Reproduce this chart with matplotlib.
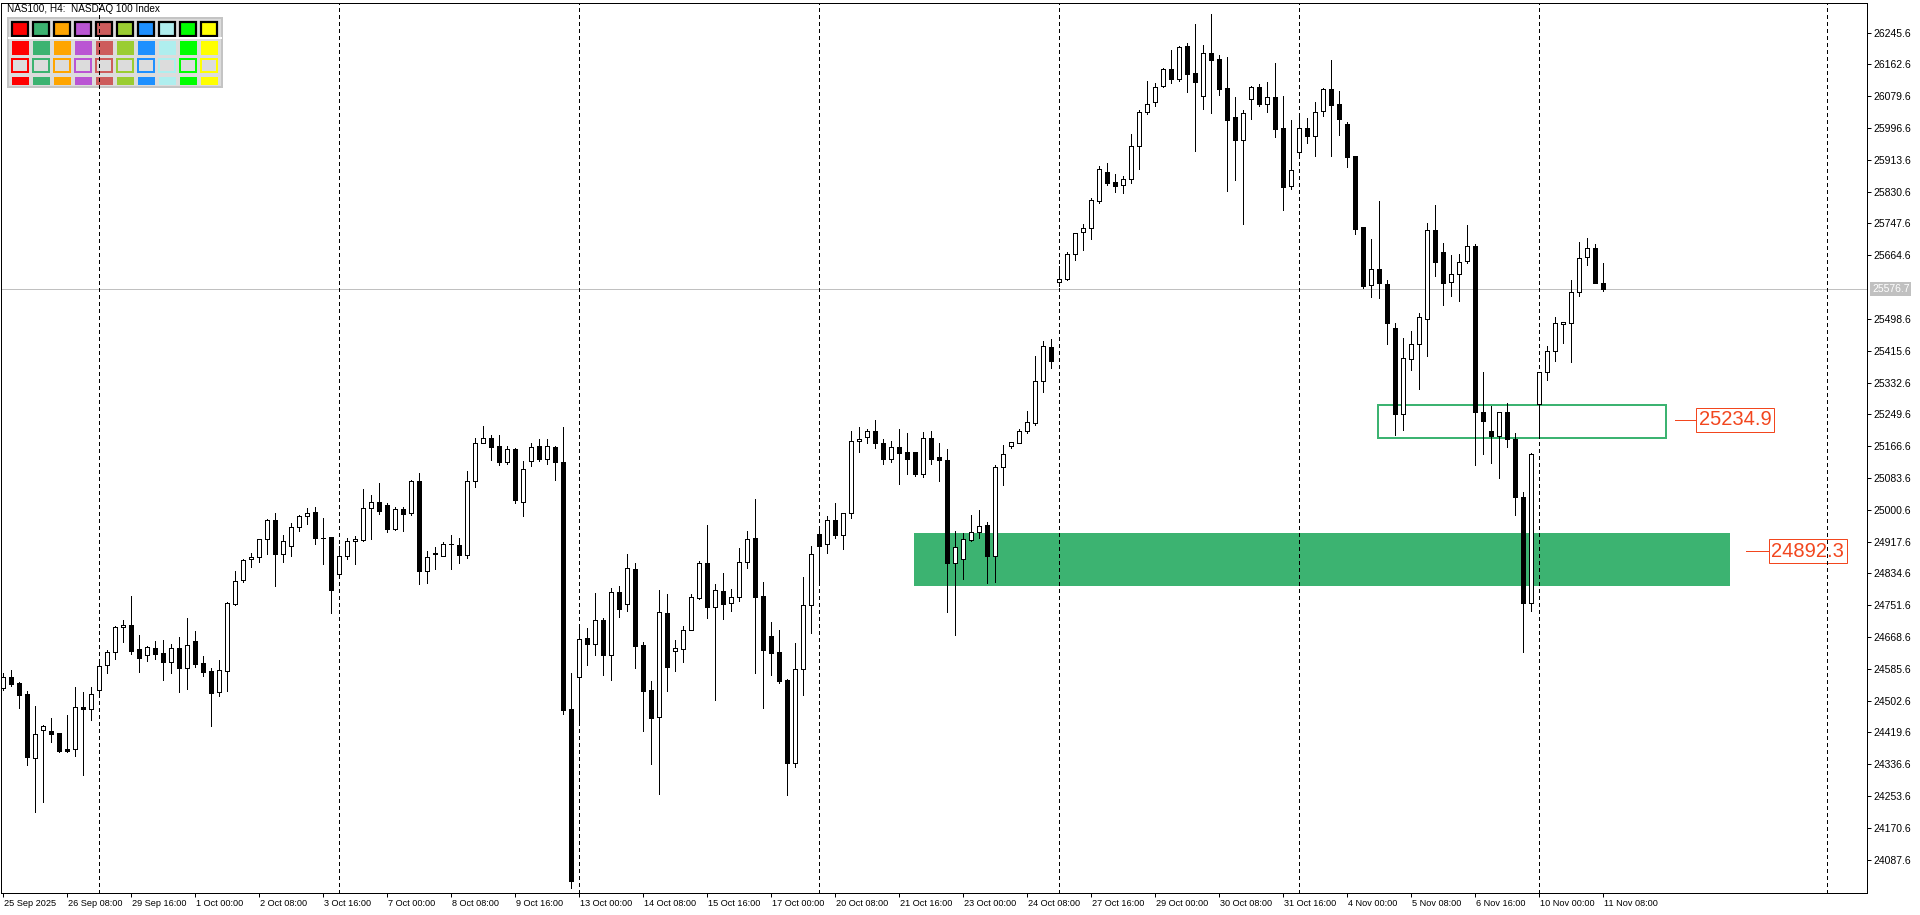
import numpy as np
import matplotlib
matplotlib.use('Agg')
import matplotlib.pyplot as plt
from matplotlib import font_manager, transforms
from matplotlib.patches import Rectangle

# H4 candles, NAS100, 25 Sep 2025 00:00 .. 11 Nov 2025 08:00 (one value per bar)
opens = [24536, 24563, 24548, 24520, 24353, 24425, 24422, 24417, 24375, 24375,
         24485, 24480, 24529, 24594, 24628, 24695, 24700, 24636, 24622, 24639,
         24627, 24602, 24639, 24588, 24657, 24600, 24580, 24524, 24580, 24754,
         24816, 24871, 24876, 24923, 24973, 24886, 24905, 24955, 24983, 24994,
         24928, 24929, 24834, 24881, 24918, 24921, 25004, 25020, 25012, 24951,
         25002, 24993, 25076, 24841, 24884, 24881, 24910, 24909, 24883, 25075,
         25174, 25189, 25166, 25126, 25158, 25022, 25127, 25166, 25133, 25163,
         25125, 24480, 24563, 24665, 24651, 24712, 24622, 24785, 24754, 24845,
         24647, 24530, 24460, 24730, 24633, 24638, 24686, 24771, 24861, 24746,
         24788, 24756, 24772, 24863, 24927, 24775, 24671, 24629, 24556, 24339,
         24584, 24751, 24936, 24910, 24974, 24934, 24993, 25179, 25190, 25207,
         25174, 25132, 25164, 25151, 25151, 25093, 25188, 25137, 25131, 24861,
         24872, 24921, 24942, 24961, 24879, 25112, 25166, 25174, 25207, 25228,
         25336, 25425, 25596, 25603, 25668, 25725, 25735, 25807, 25881, 25855,
         25847, 25865, 25950, 26038, 26066, 26106, 26151, 26126, 26211, 26140,
         26081, 26193, 26176, 26100, 26025, 25965, 26072, 26103, 26059, 26077,
         25997, 25845, 25933, 25997, 25975, 26040, 26098, 26059, 26006, 25924,
         25738, 25586, 25629, 25590, 25475, 25251, 25395, 25432, 25499, 25730,
         25672, 25594, 25615, 25649, 25689, 25255, 25205, 25194, 25255, 25185,
         25035, 24758, 25276, 25359, 25416, 25486, 25489, 25570, 25659, 25683,
         25591]
highs = [24575, 24582, 24552, 24527, 24489, 24438, 24458, 24417, 24465, 24538,
         24525, 24538, 24607, 24634, 24698, 24713, 24775, 24673, 24645, 24658,
         24660, 24650, 24668, 24718, 24684, 24618, 24588, 24608, 24761, 24841,
         24873, 24887, 24923, 24976, 24992, 24935, 24966, 24987, 25005, 25008,
         24979, 24929, 24906, 24927, 24932, 25055, 25038, 25069, 25017, 25007,
         25007, 25078, 25096, 24892, 24903, 24917, 24935, 24927, 25102, 25189,
         25219, 25196, 25195, 25166, 25162, 25128, 25175, 25185, 25185, 25167,
         25216, 24574, 24692, 24692, 24784, 24717, 24796, 24802, 24885, 24861,
         24655, 24554, 24791, 24781, 24661, 24697, 24780, 24868, 24961, 24807,
         24835, 24794, 24901, 24945, 25029, 24812, 24707, 24687, 24560, 24654,
         24825, 24906, 24948, 24983, 25017, 24993, 25207, 25217, 25212, 25236,
         25185, 25180, 25212, 25201, 25151, 25203, 25207, 25175, 25159, 24946,
         24939, 24986, 25001, 24969, 25116, 25170, 25177, 25212, 25258, 25401,
         25441, 25446, 25637, 25674, 25724, 25745, 25813, 25898, 25905, 25877,
         25871, 25981, 26044, 26120, 26113, 26154, 26200, 26211, 26218, 26268,
         26213, 26294, 26187, 26182, 26078, 26044, 26106, 26112, 26117, 26167,
         26080, 26017, 26031, 26024, 26066, 26101, 26174, 26094, 26013, 25924,
         25738, 25707, 25806, 25600, 25487, 25449, 25466, 25513, 25748, 25796,
         25697, 25665, 25668, 25744, 25693, 25360, 25271, 25255, 25278, 25202,
         25048, 25148, 25360, 25428, 25504, 25491, 25600, 25699, 25710, 25694,
         25644]
lows = [24530, 24541, 24482, 24333, 24211, 24239, 24395, 24367, 24369, 24359,
        24309, 24453, 24522, 24575, 24611, 24656, 24624, 24577, 24607, 24611,
        24556, 24575, 24526, 24533, 24591, 24567, 24437, 24515, 24528, 24752,
        24813, 24852, 24863, 24886, 24802, 24864, 24881, 24946, 24963, 24911,
        24860, 24732, 24828, 24873, 24860, 24919, 24925, 24989, 24943, 24947,
        24946, 24988, 24806, 24808, 24846, 24881, 24846, 24862, 24875, 25061,
        25174, 25130, 25117, 25121, 25018, 24985, 25115, 25128, 25121, 25078,
        24467, 24012, 24450, 24595, 24621, 24569, 24557, 24721, 24737, 24588,
        24424, 24338, 24259, 24528, 24580, 24604, 24686, 24768, 24719, 24505,
        24716, 24737, 24762, 24849, 24575, 24484, 24570, 24547, 24256, 24330,
        24518, 24680, 24815, 24888, 24926, 24899, 24979, 25150, 25174, 25161,
        25119, 25125, 25067, 25095, 25088, 25085, 25119, 25075, 24734, 24673,
        24821, 24918, 24926, 24809, 24811, 25064, 25161, 25174, 25200, 25222,
        25307, 25371, 25585, 25599, 25653, 25679, 25706, 25802, 25847, 25831,
        25827, 25852, 25891, 26033, 26054, 26103, 26115, 26119, 26092, 25938,
        26046, 26037, 26083, 25832, 25861, 25747, 26021, 26055, 26039, 25973,
        25783, 25838, 25920, 25958, 25925, 26029, 25925, 25979, 25896, 25721,
        25579, 25557, 25554, 25432, 25196, 25209, 25365, 25316, 25403, 25610,
        25536, 25558, 25546, 25645, 25118, 25146, 25123, 25084, 25163, 24988,
        24630, 24736, 25189, 25339, 25390, 25436, 25386, 25559, 25639, 25591,
        25572]
closes = [24565, 24546, 24518, 24356, 24414, 24436, 24416, 24372, 24371, 24485,
          24480, 24519, 24592, 24628, 24694, 24699, 24633, 24614, 24641, 24625,
          24604, 24639, 24588, 24647, 24599, 24578, 24523, 24581, 24756, 24814,
          24869, 24876, 24923, 24973, 24886, 24918, 24955, 24983, 24991, 24928,
          24927, 24792, 24881, 24918, 24923, 25004, 25020, 24998, 24951, 25002,
          24990, 25076, 24841, 24877, 24887, 24911, 24912, 24883, 25076, 25176,
          25189, 25165, 25126, 25158, 25027, 25108, 25163, 25133, 25166, 25126,
          24478, 24032, 24662, 24651, 24712, 24622, 24785, 24742, 24848, 24646,
          24528, 24458, 24733, 24591, 24639, 24686, 24774, 24861, 24746, 24790,
          24755, 24772, 24863, 24923, 24774, 24635, 24627, 24554, 24340, 24584,
          24751, 24884, 24906, 24974, 24934, 24993, 25180, 25185, 25207, 25174,
          25134, 25164, 25148, 25134, 25095, 25188, 25134, 25130, 24861, 24904,
          24923, 24943, 24958, 24879, 25112, 25146, 25177, 25207, 25229, 25336,
          25427, 25390, 25604, 25668, 25724, 25736, 25809, 25889, 25854, 25846,
          25863, 25950, 26038, 26059, 26103, 26151, 26126, 26207, 26139, 26118,
          26192, 26174, 26099, 26019, 25966, 26035, 26103, 26060, 26077, 25995,
          25844, 25886, 25997, 25975, 26038, 26098, 26058, 26021, 25922, 25734,
          25584, 25628, 25591, 25489, 25251, 25396, 25432, 25503, 25730, 25648,
          25593, 25615, 25646, 25688, 25256, 25233, 25194, 25255, 25184, 25035,
          24758, 25145, 25359, 25416, 25487, 25490, 25568, 25657, 25683, 25591,
          25576.7]

date_ticks = list(range(0, 201, 8))
date_labels = ['25 Sep 2025', '26 Sep 08:00', '29 Sep 16:00', '1 Oct 00:00', '2 Oct 08:00',
               '3 Oct 16:00', '7 Oct 00:00', '8 Oct 08:00', '9 Oct 16:00', '13 Oct 00:00',
               '14 Oct 08:00', '15 Oct 16:00', '17 Oct 00:00', '20 Oct 08:00', '21 Oct 16:00',
               '23 Oct 00:00', '24 Oct 08:00', '27 Oct 16:00', '29 Oct 00:00', '30 Oct 08:00',
               '31 Oct 16:00', '4 Nov 00:00', '5 Nov 08:00', '6 Nov 16:00', '10 Nov 00:00',
               '11 Nov 08:00']
week_bars = [12, 42, 72, 102, 132, 162, 192, 228]
price_ticks = [26245.6, 26162.6, 26079.6, 25996.6, 25913.6, 25830.6, 25747.6, 25664.6,
               25498.6, 25415.6, 25332.6, 25249.6, 25166.6, 25083.6, 25000.6, 24917.6,
               24834.6, 24751.6, 24668.6, 24585.6, 24502.6, 24419.6, 24336.6, 24253.6,
               24170.6, 24087.6]
last_price = 25576.7

# zones: (first bar, last bar, low, high)
zone_filled = (113.9, 215.9, 24802, 24939)
zone_frame = (171.9, 207.9, 25188, 25274)
level_a = 25234.9
level_b = 24892.3

palette = ['#FF0000', '#3CB371', '#FFA500', '#BA55D3', '#CD5C5C',
           '#9ACD32', '#1E90FF', '#AFEEEE', '#00FF00', '#FFFF00']

installed = {f.name for f in font_manager.fontManager.ttflist}
narrow = 'Liberation Sans Narrow' if 'Liberation Sans Narrow' in installed else 'Liberation Sans'

W, H = 1920, 915
px = 72.0 / 100  # one pixel in points
fig = plt.figure(figsize=(W / 100, H / 100), dpi=100, facecolor='white')

# background layer in pixel coordinates (title + colour panel)
bg = fig.add_axes([0, 0, 1, 1], zorder=0)
bg.set_xlim(0, W)
bg.set_ylim(H, 0)
bg.axis('off')
bg.text(7, 9, 'NAS100, H4:  NASDAQ 100 Index', fontsize=7.2, family=narrow,
        va='center', ha='left', color='black')
bg.add_patch(Rectangle((8, 18), 214, 69, facecolor='#DCDCDC', edgecolor='#C4C4C4', lw=2 * px))
bg.plot([9, 221], [38, 38], color='white', lw=2 * px)
for k, c in enumerate(palette):
    x0 = 12 + 21 * k
    bg.add_patch(Rectangle((x0, 22), 16, 13.5, facecolor=c, edgecolor='black', lw=2.2 * px))
    bg.add_patch(Rectangle((x0 - 0.5, 40.5), 17, 14.5, facecolor=c, edgecolor='none'))
    bg.add_patch(Rectangle((x0, 59), 16, 13, facecolor='#DCDCDC', edgecolor=c, lw=2 * px))
    bg.add_patch(Rectangle((x0 - 0.5, 77), 17, 8, facecolor=c, edgecolor='none'))

# main chart
left, right, top, bottom = 1, 1867, 2.5, 893
ax = fig.add_axes([left / W, (H - bottom) / H, (right - left) / W, (bottom - top) / H], zorder=1)
ax.set_facecolor('none')
ax.set_xlim((left - 2.5) / 8, (right - 2.5) / 8)
ax.set_ylim(24000.2, 26324.4)

x = np.arange(len(opens))
o = np.array(opens, dtype=float)
h = np.array(highs, dtype=float)
l = np.array(lows, dtype=float)
c = np.array(closes, dtype=float)
up = c >= o

fb0, fb1, flo, fhi = zone_filled
ax.add_patch(Rectangle((fb0, flo), fb1 - fb0, fhi - flo, facecolor='#3CB371',
                       edgecolor='none', zorder=1))
rb0, rb1, rlo, rhi = zone_frame
ax.add_patch(Rectangle((rb0, rlo), rb1 - rb0, rhi - rlo, facecolor='none',
                       edgecolor='#3CB371', lw=2 * px, zorder=1.5))

ax.axhline(last_price, color='#C0C0C0', lw=px, zorder=1.2)

lab_col = '#F2461E'
for y0, xa, xb in [(level_a, 209.0, 211.7), (level_b, 217.9, 220.8)]:
    ax.plot([xa, xb], [y0, y0], color=lab_col, lw=px, zorder=2)
    ax.text(xb + 0.3, y0, f'{y0:.1f}', fontsize=14.5, family='Liberation Sans',
            color=lab_col, va='center', ha='left', zorder=2,
            bbox=dict(boxstyle='square,pad=0.12', fc='white', ec=lab_col, lw=px))

for b in week_bars:
    ax.axvline(b, color='black', lw=px, ls=(0, (3, 3)), zorder=2.5, antialiased=False)

ax.vlines(x, l, h, color='black', lw=px, zorder=3, antialiased=False)
body = np.abs(c - o)
ax.bar(x[up], body[up], bottom=o[up], width=0.5, color='white', edgecolor='black',
       lw=px, zorder=4, antialiased=False)
ax.bar(x[~up], body[~up], bottom=c[~up], width=0.5, color='black', edgecolor='black',
       lw=px, zorder=4, antialiased=False)

for s in ax.spines.values():
    s.set_linewidth(px)
    s.set_color('black')

ax.yaxis.tick_right()
ax.set_yticks(price_ticks)
ax.set_yticklabels([f'{v:.1f}' for v in price_ticks], fontsize=7.5, family=narrow)
ax.tick_params(axis='y', direction='out', length=4 * px, width=px, pad=1.5)

ax.set_xticks(date_ticks)
ax.set_xticklabels(date_labels, fontsize=6.6, family=narrow, ha='left')
ax.tick_params(axis='x', direction='out', length=4 * px, width=px, pad=1.5)
shift = transforms.ScaledTranslation(2 / 100, 0, fig.dpi_scale_trans)
for lab in ax.get_xticklabels():
    lab.set_transform(lab.get_transform() + shift)

ax.annotate(f'{last_price:.1f}', xy=(1, last_price), xycoords=('axes fraction', 'data'),
            xytext=(5 * px, 0), textcoords='offset points', fontsize=7.5, family=narrow,
            color='white', va='center', ha='left',
            bbox=dict(boxstyle='square,pad=0.15', fc='#C0C0C0', ec='none'))

fig.savefig('out.png', dpi=100, facecolor='white')
